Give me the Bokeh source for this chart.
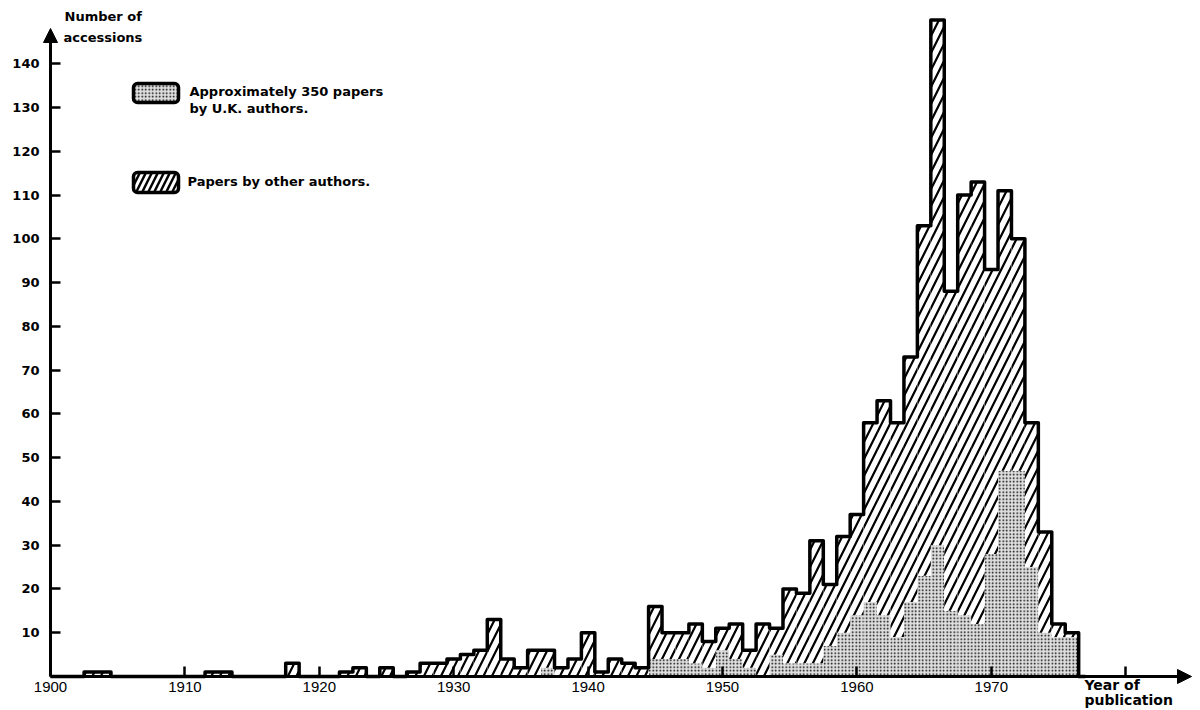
from bokeh.plotting import figure
from bokeh.models import FixedTicker, Arrow, NormalHead, Label, BoxAnnotation, Range1d
from bokeh.embed import file_html
from bokeh.resources import INLINE

# Number of accessions per year of publication
years = [1903, 1904, 1912, 1913, 1918, 1922, 1923, 1925, 1927, 1928,
         1929, 1930, 1931, 1932, 1933, 1934, 1935, 1936, 1937, 1938,
         1939, 1940, 1941, 1942, 1943, 1944, 1945, 1946, 1947, 1948,
         1949, 1950, 1951, 1952, 1953, 1954, 1955, 1956, 1957, 1958,
         1959, 1960, 1961, 1962, 1963, 1964, 1965, 1966, 1967, 1968,
         1969, 1970, 1971, 1972, 1973, 1974, 1975, 1976]
all_papers = [1, 1, 1, 1, 3, 1, 2, 2, 1, 3,
              3, 4, 5, 6, 13, 4, 2, 6, 6, 2,
              4, 10, 1, 4, 3, 2, 16, 10, 10, 12,
              8, 11, 12, 6, 12, 11, 20, 19, 31, 21,
              32, 37, 58, 63, 58, 73, 103, 150, 88, 110,
              113, 93, 111, 100, 58, 33, 12, 10]
uk_papers = [0, 0, 0, 0, 0, 0, 0, 0, 0, 0,
             0, 0, 0, 0, 0, 0, 0, 0, 2, 0,
             0, 0, 0, 0, 0, 0, 4, 4, 4, 3,
             2, 6, 4, 2, 0, 5, 3, 3, 3, 7,
             10, 14, 17, 14, 9, 17, 23, 30, 15, 14,
             12, 28, 47, 47, 25, 10, 9, 9]

x_ticks = [1900, 1910, 1920, 1930, 1940, 1950, 1960, 1970, 1980]
y_ticks = [10, 20, 30, 40, 50, 60, 70, 80, 90, 100, 110, 120, 130, 140]

# canvas geometry: the frame fills the whole canvas, both axes are pinned
# at the origin (1900, 0)
W, H = 1200, 710
ORIGIN_X = 50       # pixel column of 1900
BASE = 676          # pixel row of y = 0
PX_YEAR = 13.44
PX_UNIT = 4.377
x_start = 1900 - ORIGIN_X / PX_YEAR
x_end = 1900 + (W - ORIGIN_X) / PX_YEAR
y_start = -(H - BASE) / PX_UNIT
y_end = BASE / PX_UNIT


def xd(px):
    return 1900 + (px - ORIGIN_X) / PX_YEAR


def yd(py):
    return (BASE - py) / PX_UNIT


p = figure(width=W, height=H, x_range=Range1d(x_start, x_end), y_range=Range1d(y_start, y_end),
           output_backend="svg", toolbar_location=None,
           min_border_left=0, min_border_right=0,
           min_border_top=0, min_border_bottom=0,
           background_fill_color="white", border_fill_color="white",
           outline_line_color=None)
p.grid.visible = False

left = [y - 0.5 for y in years]
right = [y + 0.5 for y in years]

# U.K. papers: stippled
p.quad(left=left, right=right, bottom=0, top=uk_papers,
       fill_color="#dedede", line_color=None,
       hatch_pattern=".", hatch_scale=3.5, hatch_weight=1.6, hatch_color="black")
# other authors: hatched, stacked above
p.quad(left=left, right=right, bottom=uk_papers, top=all_papers,
       fill_color="white", line_color=None,
       hatch_pattern="/", hatch_scale=17, hatch_weight=2.2, hatch_color="black")

# outline of the totals
span = list(range(1900, 1978))
tot = dict(zip(years, all_papers))
dense = [tot.get(y, 0) for y in span]
p.step(span, dense, mode="center", line_width=3.5, line_color="black", line_join="round")

# axes
xa = p.xaxis[0]
xa.fixed_location = 0
xa.ticker = FixedTicker(ticks=x_ticks)
xa.major_label_overrides = {1980: ""}
xa.major_tick_in = 10
xa.major_tick_out = 0
xa.minor_tick_line_color = None
xa.axis_line_width = 3
xa.major_tick_line_width = 2.5
xa.bounds = (1900, 1983.5)
xa.major_label_text_font = "Liberation Sans"
xa.major_label_text_font_size = "15px"
xa.major_label_text_color = "black"
xa.major_label_standoff = 5

ya = p.yaxis[0]
ya.fixed_location = 1900
ya.ticker = FixedTicker(ticks=y_ticks)
ya.major_tick_in = 10
ya.major_tick_out = 0
ya.minor_tick_line_color = None
ya.axis_line_width = 3
ya.major_tick_line_width = 2.5
ya.bounds = (0, 146)
ya.major_label_text_font = "DejaVu Sans"
ya.major_label_text_font_style = "bold"
ya.major_label_text_font_size = "13px"
ya.major_label_text_color = "black"
ya.major_label_standoff = 11

# arrow heads on both axes
p.add_layout(Arrow(x_start=1900, y_start=144, x_end=1900, y_end=yd(28),
                   line_width=3, line_color="black",
                   end=NormalHead(size=14, fill_color="black", line_color="black")))
p.add_layout(Arrow(x_start=1982, y_start=0, x_end=xd(1191), y_end=0,
                   line_width=3, line_color="black",
                   end=NormalHead(size=14, fill_color="black", line_color="black")))

# legend boxes
p.add_layout(BoxAnnotation(left=xd(133), right=xd(178), top=yd(83), bottom=yd(102),
                           fill_color="#dedede", fill_alpha=1.0,
                           line_color="black", line_alpha=1.0, line_width=3.5,
                           hatch_pattern=".", hatch_scale=3.5, hatch_weight=1.6,
                           hatch_color="black", hatch_alpha=1.0, border_radius=4))
p.add_layout(BoxAnnotation(left=xd(133), right=xd(178), top=yd(172), bottom=yd(192),
                           fill_color="white", fill_alpha=1.0,
                           line_color="black", line_alpha=1.0, line_width=3.5,
                           hatch_pattern="/", hatch_scale=12, hatch_weight=2.4,
                           hatch_color="black", hatch_alpha=1.0, border_radius=4))


def text(px, py, s, size="13px"):
    p.add_layout(Label(x=xd(px), y=yd(py), text=s, text_font="DejaVu Sans",
                       text_font_style="bold", text_font_size=size,
                       text_color="black", text_baseline="middle", text_align="left"))


text(189, 91, "Approximately 350 papers")
text(189, 108, "by U.K. authors.")
text(187, 181, "Papers by other authors.")
text(64, 16, "Number of")
text(63, 37, "accessions")
text(1084, 684, "Year of", "14px")
text(1084, 699, "publication", "14px")

open("out.html", "w").write(file_html(p, INLINE))
